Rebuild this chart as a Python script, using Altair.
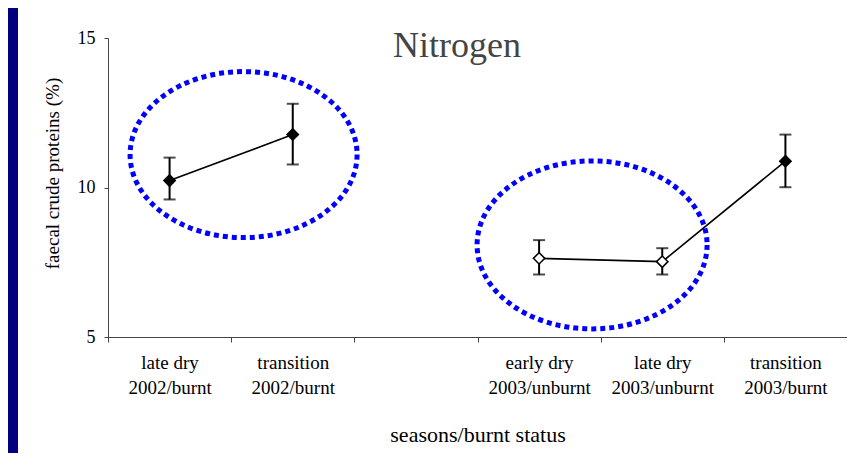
import altair as alt
import pandas as pd

# ---- data ----
categories = ["late dry|2002/burnt", "transition|2002/burnt", " ",
              "early dry|2003/unburnt", "late dry|2003/unburnt", "transition|2003/burnt"]
point_cats = ["late dry|2002/burnt", "transition|2002/burnt",
              "early dry|2003/unburnt", "late dry|2003/unburnt", "transition|2003/burnt"]
means = [10.23, 11.77, 7.63, 7.52, 10.88]
upper = [11.0, 12.8, 8.24, 7.97, 11.77]
lower = [9.6, 10.77, 7.09, 7.09, 10.01]
status = ["burnt", "burnt", "unburnt", "unburnt", "burnt"]
series = ["2002", "2002", "2003", "2003", "2003"]

# annotation ellipses (centre category, centre value)
ellipse_cats = ["late dry|2002/burnt", "early dry|2003/unburnt"]
ellipse_vals = [11.1, 8.08]

df = pd.DataFrame({"cat": point_cats, "mean": means, "hi": upper, "lo": lower,
                   "status": status, "series": series})
ell1 = pd.DataFrame({"cat": [ellipse_cats[0]], "v": [ellipse_vals[0]]})
ell2 = pd.DataFrame({"cat": [ellipse_cats[1]], "v": [ellipse_vals[1]]})

FONT = "'Liberation Serif', 'DejaVu Serif', serif"
W, H = 739, 299
PAD = {"left": 100, "top": 30, "right": 0, "bottom": 116}

xscale = alt.Scale(domain=categories, paddingInner=0, paddingOuter=0)
yscale = alt.Scale(domain=[5, 15], nice=False, zero=False)

x_enc = alt.X("cat:N", scale=xscale, sort=categories,
              axis=alt.Axis(title="seasons/burnt status",
                            labelExpr="isString(datum.value) ? split(datum.value, '|') : ''",
                            labelAngle=0, labelFont=FONT, labelFontSize=19, labelColor="black",
                            labelLineHeight=25, labelBaseline="top", labelPadding=11,
                            tickBand="extent", tickSize=5, tickColor="#444", domainColor="#444",
                            titleFont=FONT, titleFontSize=22, titleFontWeight="normal",
                            titleColor="black", titleY=104, titleBaseline="alphabetic",
                            zindex=1))
y_enc = alt.Y("mean:Q", scale=yscale,
              axis=alt.Axis(title="faecal crude proteins (%)", values=[5, 10, 15], grid=False,
                            labelFont=FONT, labelFontSize=18, labelColor="black", labelPadding=9,
                            tickSize=4, tickColor="#444", domainColor="#444",
                            titleFont=FONT, titleFontSize=19, titleFontWeight="normal",
                            titleColor="black", titleX=-50, titleY=135, titleAngle=-90,
                            titleAlign="center", titleBaseline="alphabetic", zindex=1))

panel = alt.Chart(alt.Data(values=[{}])).mark_rect(color="white").encode(
    x=alt.value(-90), x2=alt.value(W + PAD["right"]), y=alt.value(-30),
    y2=alt.value(H + PAD["bottom"]))

base = alt.Chart(df)

line = base.mark_line(color="black", strokeWidth=1.6).encode(
    x=x_enc, y=y_enc, detail="series:N")

rules = base.mark_rule(color="black", strokeWidth=2).encode(
    x=alt.X("cat:N", scale=xscale, sort=categories), y=alt.Y("lo:Q", scale=yscale), y2="hi:Q")
cap_hi = base.mark_tick(orient="horizontal", size=12, thickness=2, color="black").encode(
    x=alt.X("cat:N", scale=xscale, sort=categories), y=alt.Y("hi:Q", scale=yscale))
cap_lo = base.mark_tick(orient="horizontal", size=12, thickness=2, color="black").encode(
    x=alt.X("cat:N", scale=xscale, sort=categories), y=alt.Y("lo:Q", scale=yscale))

pts = base.mark_point(shape="diamond", filled=True, size=130, stroke="black",
                      strokeWidth=1.5, opacity=1).encode(
    x=alt.X("cat:N", scale=xscale, sort=categories), y=alt.Y("mean:Q", scale=yscale),
    fill=alt.Fill("status:N", scale=alt.Scale(domain=["burnt", "unburnt"], range=["black", "white"]),
                  legend=None))


def ellipse_path(r):
    k = 0.5523
    return (f"M 1 0 C 1 {k*r:.4f} {k} {r:.4f} 0 {r:.4f} "
            f"C {-k} {r:.4f} -1 {k*r:.4f} -1 0 "
            f"C -1 {-k*r:.4f} {-k} {-r:.4f} 0 {-r:.4f} "
            f"C {k} {-r:.4f} 1 {-k*r:.4f} 1 0 Z")


e1 = alt.Chart(ell1).mark_point(shape=ellipse_path(83 / 113.5), size=227 ** 2, filled=False,
                                stroke="#0000ff", strokeWidth=5, strokeDash=[5, 4],
                                strokeCap="butt", opacity=1, xOffset=74).encode(
    x=alt.X("cat:N", scale=xscale, sort=categories), y=alt.Y("v:Q", scale=yscale))
e2 = alt.Chart(ell2).mark_point(shape=ellipse_path(84 / 115), size=230 ** 2, filled=False,
                                stroke="#0000ff", strokeWidth=5, strokeDash=[5, 4],
                                strokeCap="butt", opacity=1, xOffset=53).encode(
    x=alt.X("cat:N", scale=xscale, sort=categories), y=alt.Y("v:Q", scale=yscale))

title = alt.Chart(alt.Data(values=[{"t": "Nitrogen"}])).mark_text(
    font=FONT, fontSize=36, color="#444444", align="center", baseline="alphabetic").encode(
    text="t:N", x=alt.value(349), y=alt.value(19))

chart = alt.layer(panel, line, rules, cap_hi, cap_lo, pts, e1, e2, title).properties(
    width=W, height=H, background="#000080", padding=PAD,
    autosize=alt.AutoSizeParams(type="none")
).configure_view(stroke="transparent")

chart.save("out.html", embed_options={"renderer": "svg", "actions": False})
